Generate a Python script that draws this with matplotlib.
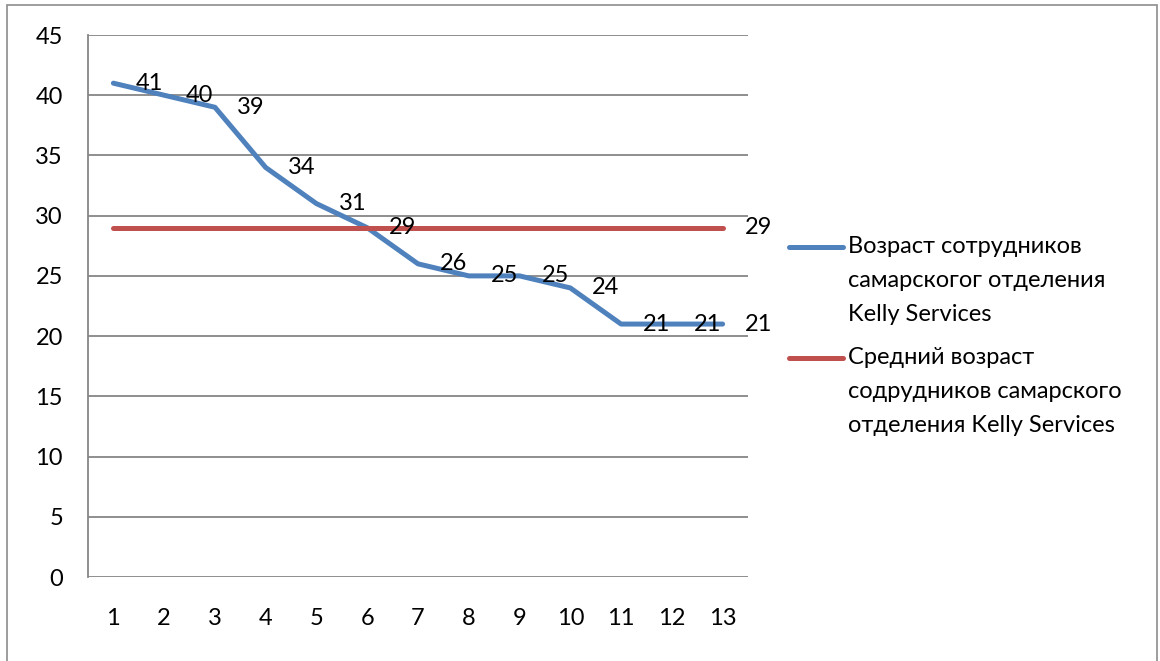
import matplotlib.pyplot as plt
from matplotlib.lines import Line2D
from matplotlib.patches import Rectangle

plt.rcParams['font.family'] = ['Lato', 'DejaVu Sans']

# data
employees = list(range(1, 14))
ages = [41, 40, 39, 34, 31, 29, 26, 25, 25, 24, 21, 21, 21]
mean_age = [29] * 13
series_names = ['Возраст сотрудников\nсамарскогог отделения\nKelly Services',
                'Средний возраст\nсодрудников самарского\nотделения Kelly Services']
y_ticks = [0, 5, 10, 15, 20, 25, 30, 35, 40, 45]

BLUE = '#4F81BD'
RED = '#C0504D'
GRID = '#868686'
FS = 17

fig = plt.figure(figsize=(11.6, 6.61), dpi=100)
ax = fig.add_axes([88 / 1160, 1 - 577 / 661, 660 / 1160, 542 / 661])

ax.plot(employees, ages, color=BLUE, lw=3.6, solid_capstyle='round', zorder=3)
ax.plot(employees, mean_age, color=RED, lw=3.6, solid_capstyle='round', zorder=3)

# value labels to the right of the points
for x, y in zip(employees, ages):
    ax.annotate(str(y), (x, y), xytext=(22, 0), textcoords='offset pixels',
                ha='left', va='center', fontsize=FS, zorder=4)
ax.annotate(str(mean_age[-1]), (employees[-1], mean_age[-1]), xytext=(22, 0),
            textcoords='offset pixels', ha='left', va='center', fontsize=FS, zorder=4)

ax.set_xlim(0.5, 13.5)
ax.set_ylim(0, 45)
ax.set_xticks(employees)
ax.set_yticks(y_ticks)
ax.tick_params(length=0, labelsize=FS)
ax.tick_params(axis='x', pad=22)
ax.tick_params(axis='y', pad=18)
ax.grid(axis='y', color=GRID, lw=1.3)
ax.set_axisbelow(True)
for side in ['top', 'right', 'bottom']:
    ax.spines[side].set_visible(False)
ax.spines['left'].set_color(GRID)
ax.spines['left'].set_linewidth(1.3)

# legend on the right
for color, name, ly in zip([BLUE, RED], series_names, [247, 358]):
    yf = 1 - ly / 661
    fig.add_artist(Line2D([789 / 1160, 843 / 1160], [yf, yf], color=color, lw=3.6,
                          solid_capstyle='round'))
    fig.text(848 / 1160, 1 - (ly - 11) / 661, name, ha='left', va='top',
             fontsize=FS, linespacing=1.76)

# chart border
fig.add_artist(Rectangle((7 / 1160, -0.1), 1150 / 1160, 1.1 - 5 / 661,
                         transform=fig.transFigure, fill=False,
                         edgecolor='#8C8C8C', lw=1.2))

fig.savefig('out.png', dpi=100)
